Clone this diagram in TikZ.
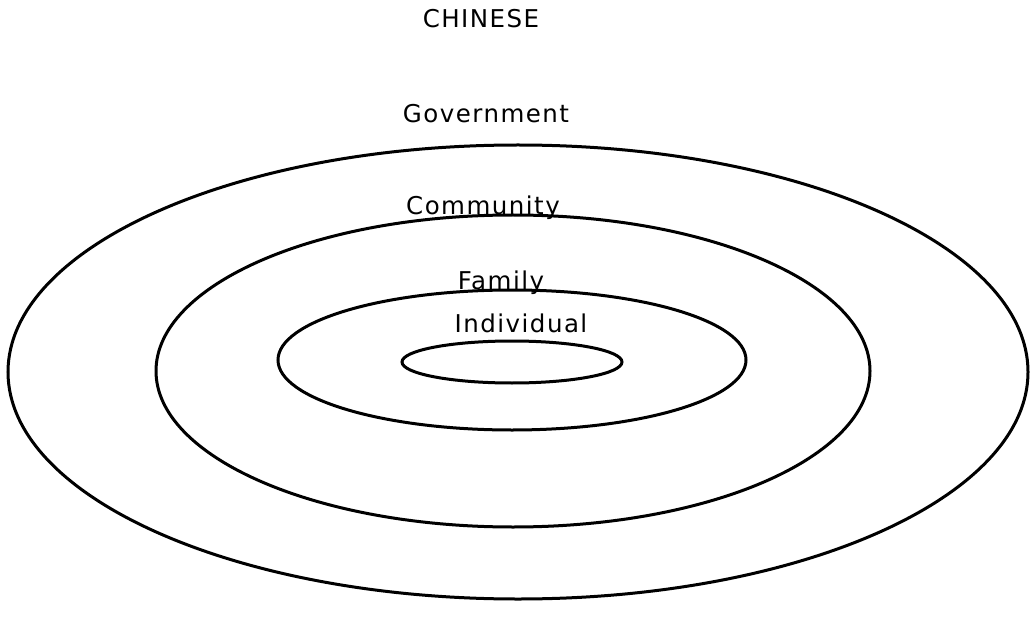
\documentclass[tikz,border=0pt]{standalone}
\usepackage{fontspec}
\setmainfont{DejaVu Sans}[LetterSpace=6]
\usepackage{tikz}

\begin{document}
\begin{tikzpicture}[x=1pt,y=-1pt,ring/.style={line width=3pt,black},lbl/.style={anchor=base,inner sep=0pt,font=\fontsize{24.5}{28}\selectfont}]
\useasboundingbox (0,0) rectangle (1030,628);
% the four rings, outside in
\foreach \n/\cx/\cy/\rx/\ry in %
{gov/518/372/510/227,com/513/371/357/156,fam/512/360/234/70,ind/512/362/110/21} {
   \coordinate (c-\n) at (\cx,\cy);
   \draw[ring] (c-\n) ellipse [x radius=\rx, y radius=\ry];
}
\node[lbl] (title) at (481,28) {CHINESE};
\foreach \n/\x/\y/\t in %
{gov/486/123/Government,com/483/215/Community,fam/501/289/Family,ind/521/332/Individual} {
   \node[lbl] (l-\n) at (\x,\y) {\t};
}
\end{tikzpicture}
\end{document}
